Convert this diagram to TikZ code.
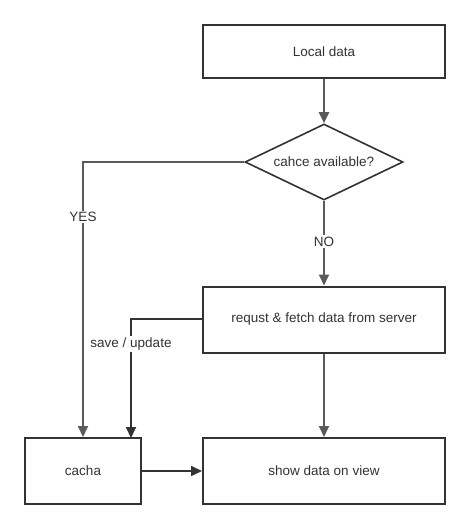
\documentclass[tikz,border=0pt]{standalone}
\usepackage{fontspec}
\setmainfont{Liberation Sans}
\usetikzlibrary{shapes.geometric,arrows.meta}
\definecolor{boxc}{HTML}{333333}
\definecolor{linec}{HTML}{5A5A5A}
\definecolor{darkl}{HTML}{333333}
\definecolor{txtc}{HTML}{333333}
\begin{document}
\begin{tikzpicture}[x=1pt,y=-1pt,
  box/.style={draw=boxc,line width=2pt,minimum width=242pt,minimum height=53pt,inner sep=0pt,font=\fontsize{13.5}{15}\selectfont,text=txtc},
  dia/.style={draw=boxc,line width=1.6pt,diamond,aspect=2.13,minimum width=158pt,minimum height=76pt,inner sep=0pt,font=\fontsize{13.5}{15}\selectfont,text=txtc},
  conn/.style={draw=linec,line width=2pt,-{Triangle[length=11pt,width=10pt]}},
  connd/.style={draw=darkl,line width=2pt,-{Triangle[length=11pt,width=10pt]}},
  lbl/.style={fill=white,inner sep=1.5pt,font=\fontsize{13.5}{15}\selectfont,text=txtc}]
\useasboundingbox (0,0) rectangle (473,530);
\fill[white] (0,0) rectangle (473,530);
\node[box] (local) at (324,51.5) {Local data};
\node[dia] (avail) at (324,162) {cahce available?};
\node[box,minimum height=66pt] (req) at (324,319.5) {requst \& fetch data from server};
\node[box,minimum width=116pt,minimum height=66pt] (cache) at (83,471) {cacha};
\node[box,minimum height=66pt] (show) at (324,471) {show data on view};
\coordinate (yc) at (83,162);
\coordinate (sc) at (131,319);
\coordinate (se) at (131,438);
\draw[conn] (local.south) -- (avail.north);
\draw[conn] (avail.west) -- (yc) -- (cache.north) node[lbl,pos=0.2] {YES};
\draw[conn] (avail.south) -- (req.north) node[lbl,pos=0.48] {NO};
\draw[connd] (req.west |- sc) -- (sc) -- (se) node[lbl,pos=0.21] {save / update};
\draw[conn] (req.south) -- (show.north);
\draw[connd] (cache.east) -- (show.west);
\end{tikzpicture}
\end{document}
